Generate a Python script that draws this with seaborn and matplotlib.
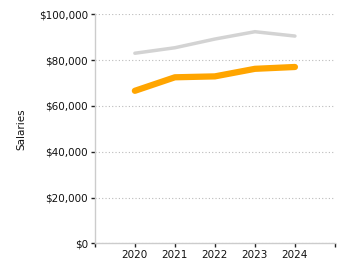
import pandas as pd
import seaborn as sns
import matplotlib.pyplot as plt
from matplotlib.ticker import FuncFormatter

years = [2020, 2021, 2022, 2023, 2024]
upper = [83000, 85400, 89200, 92400, 90500]
lower = [66600, 72500, 72900, 76200, 77000]

df = pd.DataFrame({
    'year': years * 2,
    'salary': upper + lower,
    'series': ['upper'] * len(years) + ['lower'] * len(years),
})

sns.set_style('white')
plt.rcParams['font.family'] = ['DejaVu Sans']

fig = plt.figure(figsize=(3.5, 2.75), dpi=100)
ax = fig.add_axes([0.271, 0.115, 0.686, 0.833])

sns.lineplot(data=df[df.series == 'upper'], x='year', y='salary', color='#d3d3d3',
             linewidth=2.5, ax=ax, legend=False)
sns.lineplot(data=df[df.series == 'lower'], x='year', y='salary', color='#ffa500',
             linewidth=4.5, ax=ax, legend=False)

ax.set_xlim(2019, 2025)
ax.set_ylim(0, 100000)
ax.set_xticks(range(2019, 2026))
ax.set_xticklabels([''] + [str(y) for y in years] + [''])
ax.set_yticks(range(0, 100001, 20000))
ax.yaxis.set_major_formatter(FuncFormatter(lambda v, p: '${:,.0f}'.format(v)))
ax.yaxis.grid(True, linestyle=(0, (1, 2)), color='#bbbbbb', linewidth=0.8)
ax.set_axisbelow(True)

for s in ['top', 'right']:
    ax.spines[s].set_visible(False)
for s in ['left', 'bottom']:
    ax.spines[s].set_color('#cccccc')
    ax.spines[s].set_linewidth(1)
ax.tick_params(axis='both', bottom=True, left=True, length=3, width=1, color='#222222',
               labelsize=7.5, pad=2, labelcolor='#111111')

ax.set_xlabel('')
ax.set_ylabel('Salaries', fontsize=7.5, labelpad=9, color='#111111')

fig.savefig('out.png', dpi=100)
